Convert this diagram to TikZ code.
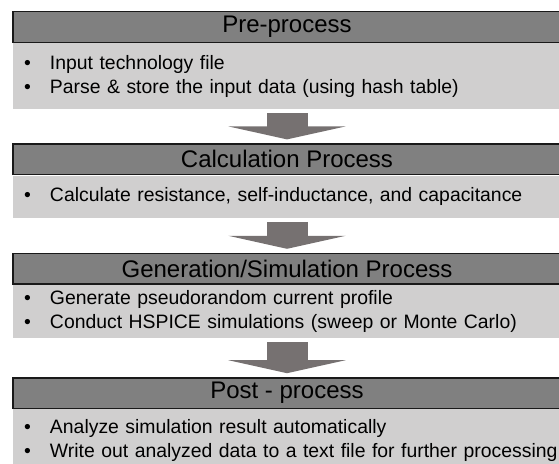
\documentclass[tikz,border=0pt]{standalone}
\usepackage{fontspec}
\setmainfont{Liberation Sans}
\usetikzlibrary{positioning,arrows.meta}
\definecolor{headgray}{RGB}{128,128,128}
\definecolor{bodygray}{RGB}{208,207,207}
\definecolor{arrowgray}{RGB}{118,113,113}
% one bullet line, never broken
\newcommand{\itm}[1]{\mbox{\makebox[26pt][l]{\textbullet}#1}}

\begin{document}
\begin{tikzpicture}[x=1pt, y=1pt,
	stagehead/.style={draw=black!90, line width=1.4pt, fill=headgray, minimum width=548pt, minimum height=30.6pt, inner sep=0pt, font=\fontsize{24}{28}\selectfont},
	stagebody/.style={fill=bodygray, text width=526pt, minimum width=548pt, inner xsep=11pt, inner ysep=0pt, align=left, font=\fontsize{19.4}{24}\selectfont},
	flow/.style={draw=arrowgray, line width=41pt, -{Triangle[width=117pt, length=13pt]}, shorten <=4pt, shorten >=4pt}]
		\useasboundingbox (0,0) rectangle (559,-463);
		% stages
		\node[stagehead] (pre) at (287,-27) {Pre-process};
		\node[stagebody, minimum height=66pt, below=0pt of pre] (preb) {\itm{Input technology file}\\\itm{Parse \& store the input data (using hash table)}};
		\node[stagehead, below=34pt of preb] (calc) {Calculation Process};
		\node[stagebody, minimum height=42pt, below=0pt of calc] (calcb) {\itm{Calculate resistance, self-inductance, and capacitance}};
		\node[stagehead, below=35pt of calcb] (gen) {Generation/Simulation Process};
		\node[stagebody, minimum height=53pt, below=0pt of gen] (genb) {\itm{Generate pseudorandom current profile}\\\itm{Conduct HSPICE simulations (sweep or Monte Carlo)}};
		\node[stagehead, below=39pt of genb] (post) {Post - process};
		\node[stagebody, minimum height=62pt, below=0pt of post] (postb) {\itm{Analyze simulation result automatically}\\\itm{Write out analyzed data to a text file for further processing}};
		% arrows between stages
		\draw[flow] (preb.south) -- (calc.north);
		\draw[flow] (calcb.south) -- (gen.north);
		\draw[flow] (genb.south) -- (post.north);
	\end{tikzpicture}
\end{document}
